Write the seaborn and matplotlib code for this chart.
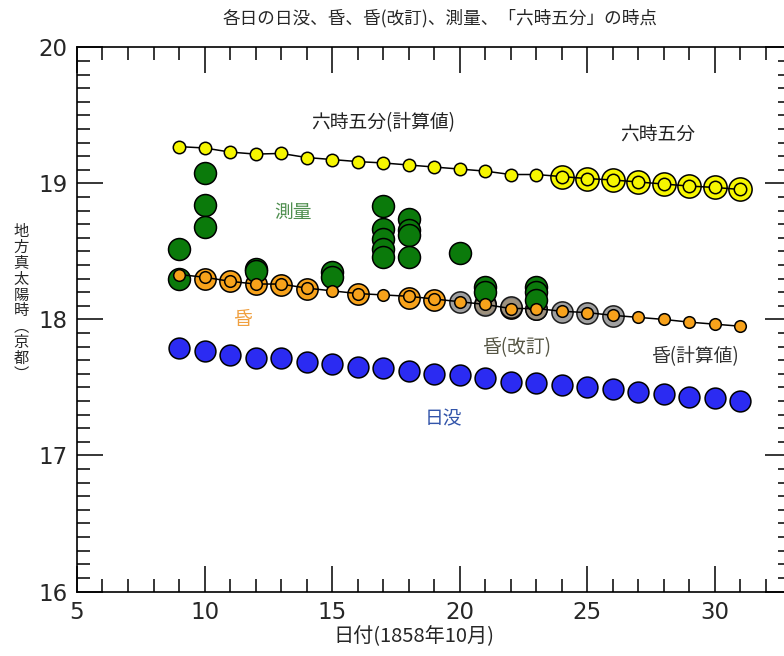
import pandas as pd
import matplotlib
matplotlib.use("Agg")
import matplotlib.pyplot as plt
from matplotlib.ticker import MultipleLocator
import seaborn as sns

# data (day of October 1858, local true solar time in hours)
days = [9, 10, 11, 12, 13, 14, 15, 16, 17, 18, 19, 20,
        21, 22, 23, 24, 25, 26, 27, 28, 29, 30, 31]
sunset = [17.79, 17.77, 17.74, 17.72, 17.72, 17.69, 17.67, 17.65, 17.64, 17.62, 17.60, 17.59,
          17.57, 17.54, 17.53, 17.52, 17.50, 17.49, 17.47, 17.45, 17.43, 17.42, 17.40]
dusk_calc = [18.33, 18.31, 18.28, 18.26, 18.26, 18.23, 18.21, 18.19, 18.18, 18.17, 18.15, 18.13,
             18.11, 18.08, 18.08, 18.06, 18.05, 18.03, 18.015, 18.0, 17.98, 17.965, 17.95]
six_calc = [19.27, 19.26, 19.23, 19.215, 19.22, 19.19, 19.175, 19.16, 19.15, 19.135, 19.12, 19.105,
            19.09, 19.065, 19.065, 19.05, 19.035, 19.025, 19.01, 18.995, 18.98, 18.97, 18.955]

dusk_days = [10, 11, 12, 13, 14, 16, 18, 19, 21, 22, 23]
dusk = [18.30, 18.28, 18.26, 18.255, 18.225, 18.19, 18.16, 18.145, 18.11, 18.085, 18.075]

dusk_rev_days = [20, 21, 22, 23, 24, 25, 26]
dusk_rev = [18.125, 18.105, 18.088, 18.076, 18.056, 18.044, 18.027]

six_days = [24, 25, 26, 27, 28, 29, 30, 31]
six = [19.05, 19.035, 19.025, 19.01, 18.995, 18.98, 18.97, 18.955]

survey_days = [9, 9, 10, 10, 10, 12, 12, 15, 15, 17, 17, 17, 17, 17,
               18, 18, 18, 18, 20, 21, 21, 23, 23, 23]
survey = [18.515, 18.30, 19.075, 18.84, 18.68, 18.37, 18.355, 18.35, 18.31,
          18.83, 18.665, 18.59, 18.515, 18.46, 18.74, 18.655, 18.62, 18.46,
          18.485, 18.24, 18.20, 18.24, 18.20, 18.14]

calc_df = pd.DataFrame({"day": days, "sunset": sunset, "dusk_calc": dusk_calc, "six_calc": six_calc})
dusk_df = pd.DataFrame({"day": dusk_days, "time": dusk})
rev_df = pd.DataFrame({"day": dusk_rev_days, "time": dusk_rev})
six_df = pd.DataFrame({"day": six_days, "time": six})
survey_df = pd.DataFrame({"day": survey_days, "time": survey})

sns.set_style("white")
plt.rcParams["font.family"] = ["DejaVu Sans"]
cjk = ["Noto Sans CJK JP", "DejaVu Sans"]

fig = plt.figure(figsize=(7.84, 6.56), dpi=100)
ax = fig.add_axes([0.0982, 0.0983, 0.911, 0.8296])

edge = dict(edgecolor="black", linewidth=1.1, legend=False)

# sunset
sns.scatterplot(data=calc_df, x="day", y="sunset", ax=ax, color="#2b2bf2", s=225, zorder=3, **edge)

# dusk (original) and revised dusk
sns.scatterplot(data=dusk_df, x="day", y="time", ax=ax, color="#f7a21b", s=235, zorder=3, **edge)
sns.scatterplot(data=rev_df, x="day", y="time", ax=ax, color="#8f8f8f", s=235, alpha=0.85, zorder=4, **edge)

# "six o'clock five" large rings
sns.scatterplot(data=six_df, x="day", y="time", ax=ax, color="#f6f600", s=280, zorder=3, **edge)

# survey points
sns.scatterplot(data=survey_df, x="day", y="time", ax=ax, color="#0b7a0b", s=250, zorder=5, **edge)

# computed lines with small dots
for col, colr, sz in [("dusk_calc", "#f7a21b", 70), ("six_calc", "#f6f600", 80)]:
    sns.lineplot(data=calc_df, x="day", y=col, ax=ax, color="black", linewidth=1.1, zorder=6)
    sns.scatterplot(data=calc_df, x="day", y=col, ax=ax, color=colr, s=sz, zorder=7, **edge)

ax.set_xlim(5, 33)
ax.set_ylim(16, 20)
ax.xaxis.set_major_locator(MultipleLocator(5))
ax.xaxis.set_minor_locator(MultipleLocator(1))
ax.yaxis.set_major_locator(MultipleLocator(1))
ax.yaxis.set_minor_locator(MultipleLocator(0.1))
ax.tick_params(which="both", direction="in", bottom=True, left=True, top=True, right=True,
               width=1.1, color="black")
ax.tick_params(which="major", length=19, labelsize=16.5, pad=7)
ax.tick_params(which="minor", length=9.5)
for sp in ax.spines.values():
    sp.set_color("black")
    sp.set_linewidth(1.2)
ax.set_xlabel("")
ax.set_ylabel("")

# series labels
lab = dict(fontsize=13.5, ha="center", va="center", family=cjk)
ax.text(17.0, 19.443, "六時五分(計算値)", color="#222222", **lab)
ax.text(27.75, 19.355, "六時五分", color="#222222", **lab)
ax.text(13.47, 18.79, "測量", color="#4f8f4f", **lab)
ax.text(11.47, 18.0, "昏", color="#f0a040", **lab)
ax.text(22.25, 17.79, "昏(改訂)", color="#555544", **lab)
ax.text(29.23, 17.73, "昏(計算値)", color="#333333", **lab)
ax.text(19.35, 17.27, "日没", color="#3355aa", **lab)

fig.text(440 / 784, 1 - 18 / 656, "各日の日没、昏、昏(改訂)、測量、「六時五分」の時点",
         fontsize=12.7, ha="center", va="center", family=cjk)
fig.text(414 / 784, 1 - 637 / 656, "日付(1858年10月)", fontsize=14.5, ha="center", va="center", family=cjk)
fig.text(21 / 784, 1 - 303 / 656, "\n".join("地方真太陽時︵京都︶"), fontsize=11,
         ha="center", va="center", family=cjk, linespacing=0.92)

fig.savefig("out.png", dpi=100)
